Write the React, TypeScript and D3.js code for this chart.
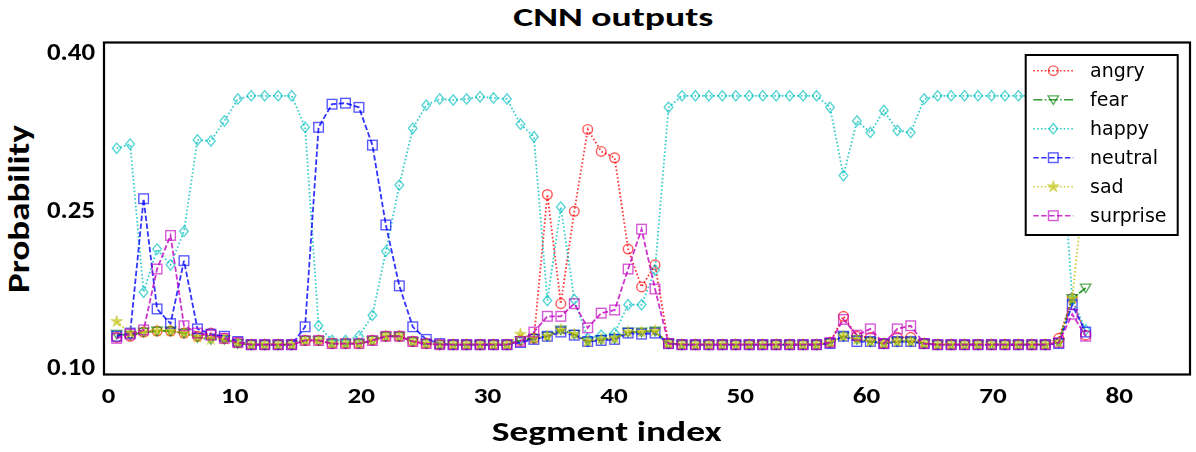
import React from "react";
import * as d3 from "d3";

// ---- data ----
const SEGMENTS = d3.range(73);
const EMOTIONS = ["angry", "fear", "happy", "neutral", "sad", "surprise"];

const angry = [
  0.128, 0.129, 0.133, 0.134, 0.134, 0.132, 0.129, 0.132, 0.127, 0.123,
  0.121, 0.121, 0.121, 0.121, 0.125, 0.125, 0.122, 0.122, 0.122, 0.125,
  0.129, 0.129, 0.124, 0.122, 0.121, 0.121, 0.121, 0.121, 0.121, 0.121,
  0.125, 0.127, 0.264, 0.160, 0.248, 0.326, 0.305, 0.299, 0.212, 0.176,
  0.197, 0.122, 0.121, 0.121, 0.121, 0.121, 0.121, 0.121, 0.121, 0.121,
  0.121, 0.121, 0.121, 0.123, 0.148, 0.129, 0.128, 0.122, 0.128, 0.128,
  0.122, 0.121, 0.121, 0.121, 0.121, 0.121, 0.121, 0.121, 0.121, 0.121,
  0.127, 0.165, 0.130,
];
const fear = [
  0.131, 0.130, 0.133, 0.134, 0.134, 0.132, 0.128, 0.126, 0.126, 0.122,
  0.121, 0.121, 0.121, 0.121, 0.125, 0.125, 0.122, 0.122, 0.122, 0.125,
  0.129, 0.129, 0.124, 0.122, 0.121, 0.121, 0.121, 0.121, 0.121, 0.121,
  0.125, 0.127, 0.129, 0.135, 0.131, 0.124, 0.126, 0.127, 0.133, 0.133,
  0.134, 0.122, 0.121, 0.121, 0.121, 0.121, 0.121, 0.121, 0.121, 0.121,
  0.121, 0.121, 0.121, 0.123, 0.129, 0.126, 0.124, 0.122, 0.124, 0.124,
  0.122, 0.121, 0.121, 0.121, 0.121, 0.121, 0.121, 0.121, 0.121, 0.121,
  0.123, 0.165, 0.175,
];
const happy = [
  0.308, 0.312, 0.171, 0.212, 0.197, 0.229, 0.316, 0.315, 0.334, 0.355,
  0.358, 0.358, 0.358, 0.358, 0.328, 0.139, 0.125, 0.125, 0.129, 0.149,
  0.210, 0.273, 0.327, 0.349, 0.355, 0.354, 0.355, 0.357, 0.356, 0.355,
  0.331, 0.319, 0.163, 0.252, 0.164, 0.127, 0.130, 0.132, 0.159, 0.159,
  0.192, 0.347, 0.358, 0.358, 0.358, 0.358, 0.358, 0.358, 0.358, 0.358,
  0.358, 0.358, 0.358, 0.347, 0.282, 0.334, 0.323, 0.344, 0.325, 0.323,
  0.355, 0.358, 0.358, 0.358, 0.358, 0.358, 0.358, 0.358, 0.358, 0.358,
  0.358, 0.164, 0.135,
];
const neutral = [
  0.129, 0.132, 0.260, 0.155, 0.141, 0.201, 0.136, 0.131, 0.129, 0.124,
  0.121, 0.121, 0.121, 0.121, 0.138, 0.328, 0.350, 0.351, 0.347, 0.311,
  0.235, 0.177, 0.138, 0.126, 0.122, 0.121, 0.121, 0.121, 0.121, 0.121,
  0.123, 0.126, 0.129, 0.133, 0.130, 0.124, 0.125, 0.126, 0.132, 0.131,
  0.132, 0.122, 0.121, 0.121, 0.121, 0.121, 0.121, 0.121, 0.121, 0.121,
  0.121, 0.121, 0.121, 0.122, 0.129, 0.124, 0.124, 0.122, 0.124, 0.124,
  0.122, 0.121, 0.121, 0.121, 0.121, 0.121, 0.121, 0.121, 0.121, 0.121,
  0.122, 0.159, 0.133,
];
const sad = [
  0.143, 0.132, 0.133, 0.134, 0.134, 0.132, 0.128, 0.126, 0.126, 0.122,
  0.121, 0.121, 0.121, 0.121, 0.125, 0.125, 0.122, 0.122, 0.122, 0.125,
  0.129, 0.129, 0.124, 0.122, 0.121, 0.121, 0.121, 0.121, 0.121, 0.121,
  0.131, 0.127, 0.129, 0.135, 0.131, 0.124, 0.126, 0.127, 0.133, 0.133,
  0.134, 0.122, 0.121, 0.121, 0.121, 0.121, 0.121, 0.121, 0.121, 0.121,
  0.121, 0.121, 0.121, 0.123, 0.129, 0.126, 0.124, 0.122, 0.124, 0.124,
  0.122, 0.121, 0.121, 0.121, 0.121, 0.121, 0.121, 0.121, 0.121, 0.121,
  0.123, 0.165, 0.289,
];
const surprise = [
  0.127, 0.131, 0.135, 0.193, 0.225, 0.139, 0.132, 0.130, 0.127, 0.123,
  0.121, 0.121, 0.121, 0.121, 0.125, 0.125, 0.122, 0.122, 0.122, 0.125,
  0.129, 0.129, 0.124, 0.122, 0.121, 0.121, 0.121, 0.121, 0.121, 0.121,
  0.124, 0.133, 0.148, 0.148, 0.160, 0.137, 0.151, 0.154, 0.193, 0.231,
  0.174, 0.122, 0.121, 0.121, 0.121, 0.121, 0.121, 0.121, 0.121, 0.121,
  0.121, 0.121, 0.121, 0.123, 0.145, 0.130, 0.136, 0.122, 0.136, 0.139,
  0.122, 0.121, 0.121, 0.121, 0.121, 0.121, 0.121, 0.121, 0.121, 0.121,
  0.123, 0.150, 0.129,
];

const X_TICKS = [0, 10, 20, 30, 40, 50, 60, 70, 80];
const Y_TICKS = [0.1, 0.25, 0.4];

// ---- styles ----
type MarkerKind = "circle" | "triDown" | "diamond" | "square" | "star";
const STYLE: Record<string, { color: string; dash: string; marker: MarkerKind }> = {
  angry: { color: "#ff0000", dash: "1.6,2.2", marker: "circle" },
  fear: { color: "#008000", dash: "9,2.4,1.6,2.4", marker: "triDown" },
  happy: { color: "#00bfbf", dash: "1.6,2.2", marker: "diamond" },
  neutral: { color: "#0000ff", dash: "5.5,2.4", marker: "square" },
  sad: { color: "#bfbf00", dash: "1.6,2.2", marker: "star" },
  surprise: { color: "#bf00bf", dash: "5.5,2.4", marker: "square" },
};
const SERIES: Record<string, number[]> = { angry, fear, happy, neutral, sad, surprise };

const W = 1196;
const H = 452;
const FRAME = { left: 104, top: 42.5, right: 1190, bottom: 374.5 };

const x = d3.scaleLinear().domain([0, 72]).range([116.7, 1085.7]);
const xTick = d3.scaleLinear().domain([0, 80]).range([108.5, 1119.3]);
const y = d3.scaleLinear().domain([0.1, 0.4]).range([366.7, 51.7]);

const starPath = d3.symbol(d3.symbolStar, 46)() as string;

function Marker({ kind, cx, cy, color }: { kind: MarkerKind; cx: number; cy: number; color: string }) {
  const common = { fill: "none", stroke: color, strokeWidth: 1.4 };
  const t = `translate(${cx},${cy})`;
  switch (kind) {
    case "circle":
      return <circle cx={cx} cy={cy} r={4.8} {...common} />;
    case "square":
      return <rect x={cx - 4.8} y={cy - 4.8} width={9.6} height={9.6} {...common} />;
    case "diamond":
      return <path transform={t} d="M0,-5.2L4.3,0L0,5.2L-4.3,0Z" {...common} />;
    case "triDown":
      return <path transform={t} d="M-5.2,-3.8L5.2,-3.8L0,4.8Z" {...common} />;
    case "star":
      return <path transform={t} d={starPath} fill={color} stroke={color} strokeWidth={0.6} />;
  }
}

const BOLD: React.CSSProperties = {
  fontFamily: "Carlito, Lato, 'Open Sans', Roboto, sans-serif",
  fontWeight: 700,
};

export default function App() {
  const line = d3
    .line<number>()
    .x((_, i) => x(SEGMENTS[i]))
    .y((v) => y(v));

  const legendX = 1025.7;
  const legendY = 55;
  const legendRowBase = 76.7;
  const legendStep = 29;

  return (
    <svg
      width={W}
      height={H}
      viewBox={`0 0 ${W} ${H}`}
      style={{ position: "absolute", left: 0, top: 0, background: "#fff" }}
    >
      <defs>
        <clipPath id="plotClip">
          <rect x={FRAME.left} y={FRAME.top} width={FRAME.right - FRAME.left} height={FRAME.bottom - FRAME.top} />
        </clipPath>
      </defs>
      <rect x={0} y={0} width={W} height={H} fill="#fff" />

      {/* title */}
      <text
        x={613.3}
        y={26}
        textAnchor="middle"
        style={{ ...BOLD, fontSize: 26 }}
        textLength={200}
        lengthAdjust="spacingAndGlyphs"
        fill="#000"
      >
        CNN outputs
      </text>

      {/* series */}
      <g clipPath="url(#plotClip)">
        {EMOTIONS.map((name) => {
          const st = STYLE[name];
          const vals = SERIES[name];
          return (
            <g key={name}>
              <path
                d={line(vals) as string}
                fill="none"
                stroke={st.color}
                strokeOpacity={0.8}
                strokeWidth={1.8}
                strokeDasharray={st.dash}
              />
              <g opacity={0.65}>
                {vals.map((v, i) => (
                  <Marker key={i} kind={st.marker} cx={x(SEGMENTS[i])} cy={y(v)} color={st.color} />
                ))}
              </g>
            </g>
          );
        })}
      </g>

      {/* frame */}
      <rect
        x={FRAME.left}
        y={FRAME.top}
        width={FRAME.right - FRAME.left}
        height={FRAME.bottom - FRAME.top}
        fill="none"
        stroke="#000"
        strokeWidth={2.2}
      />

      {/* y tick labels */}
      {Y_TICKS.map((t) => (
        <text
          key={t}
          x={95}
          y={y(t) + 8.5}
          textAnchor="end"
          style={{ ...BOLD, fontSize: 23.5 }}
          textLength={48}
          lengthAdjust="spacingAndGlyphs"
          fill="#000"
        >
          {d3.format(".2f")(t)}
        </text>
      ))}

      {/* x tick labels */}
      {X_TICKS.map((t) => (
        <text
          key={t}
          x={xTick(t)}
          y={403}
          textAnchor="middle"
          style={{ ...BOLD, fontSize: 22.5 }}
          textLength={t === 0 ? 13.5 : 27.5}
          lengthAdjust="spacingAndGlyphs"
          fill="#000"
        >
          {t}
        </text>
      ))}

      {/* axis titles */}
      <text
        x={606.7}
        y={441}
        textAnchor="middle"
        style={{ ...BOLD, fontSize: 28 }}
        textLength={230}
        lengthAdjust="spacingAndGlyphs"
        fill="#000"
      >
        Segment index
      </text>
      <text
        transform="translate(28.5,209) rotate(-90)"
        textAnchor="middle"
        style={{ ...BOLD, fontSize: 29.5 }}
        textLength={168}
        lengthAdjust="spacingAndGlyphs"
        fill="#000"
      >
        Probability
      </text>

      {/* legend */}
      <rect
        x={legendX}
        y={legendY}
        width={1177.7 - legendX}
        height={235 - legendY}
        fill="#fff"
        stroke="#000"
        strokeWidth={2}
      />
      {EMOTIONS.map((name, i) => {
        const st = STYLE[name];
        const base = legendRowBase + i * legendStep;
        const ly = base - 6;
        return (
          <g key={name}>
            <line
              x1={1033.3}
              x2={1073.3}
              y1={ly}
              y2={ly}
              stroke={st.color}
              strokeOpacity={0.8}
              strokeWidth={1.6}
              strokeDasharray={st.dash}
            />
            <g opacity={0.65}>
              <Marker kind={st.marker} cx={1053.3} cy={ly} color={st.color} />
            </g>
            <text x={1090} y={base} style={{ fontFamily: "'DejaVu Sans', sans-serif", fontSize: 19 }} fill="#000">
              {name}
            </text>
          </g>
        );
      })}
    </svg>
  );
}
